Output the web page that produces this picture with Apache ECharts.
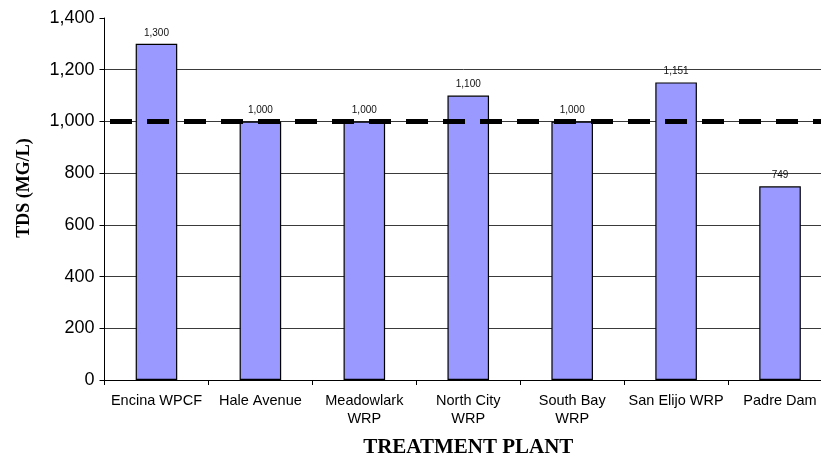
<!DOCTYPE html>
<html>
<head>
<meta charset="utf-8">
<script src="https://cdn.jsdelivr.net/npm/echarts@6/dist/echarts.min.js"></script>
<style>
  html, body { margin: 0; padding: 0; background: #fff; overflow: hidden; }
  #chart { width: 821px; height: 455px; }
</style>
</head>
<body>
<div id="chart"></div>
<script>
// Treatment plants and their TDS concentrations (mg/L)
const plants = ['Encina WPCF', 'Hale Avenue', 'Meadowlark\nWRP', 'North City\nWRP', 'South Bay\nWRP', 'San Elijo WRP', 'Padre Dam'];
const tdsValues = [1300, 1000, 1000, 1100, 1000, 1151, 749];
const tdsLimit = 1000;
const yTicks = { min: 0, max: 1400, interval: 200 };

const fmt = v => v.toLocaleString('en-US');

const chart = echarts.init(document.getElementById('chart'), null, { renderer: 'canvas' });

chart.setOption({
  animation: false,
  backgroundColor: '#ffffff',
  grid: { left: 104.5, right: -11, top: 18, bottom: 75, containLabel: false, outerBoundsMode: 'none' },
  xAxis: {
    type: 'category',
    data: plants,
    name: 'TREATMENT PLANT',
    nameLocation: 'middle',
    nameGap: 57,
    nameTextStyle: { fontFamily: 'Liberation Serif', fontWeight: 'bold', fontSize: 21, color: '#000' },
    axisLine: { lineStyle: { color: '#000', width: 1 } },
    axisTick: { show: true, length: 5, lineStyle: { color: '#000' } },
    axisLabel: { fontFamily: 'Liberation Sans', fontSize: 14.5, color: '#000', margin: 12, lineHeight: 18, interval: 0 },
    splitLine: { show: false }
  },
  yAxis: {
    type: 'value',
    min: yTicks.min,
    max: yTicks.max,
    interval: yTicks.interval,
    name: 'TDS (MG/L)',
    nameLocation: 'middle',
    nameGap: 71,
    nameRotate: 90,
    nameTextStyle: { fontFamily: 'Liberation Serif', fontWeight: 'bold', fontSize: 18, color: '#000', padding: [0, 0, 0, 22] },
    axisLine: { show: true, lineStyle: { color: '#000', width: 1 } },
    axisTick: { show: true, length: 5, lineStyle: { color: '#000' } },
    axisLabel: { fontFamily: 'Liberation Sans', fontSize: 18, color: '#000', margin: 10, formatter: fmt },
    splitLine: { show: true, showMaxLine: false, lineStyle: { color: '#3a3a3a', width: 1 } }
  },
  series: [{
    type: 'bar',
    data: tdsValues,
    barWidth: '40%',
    itemStyle: { color: '#9999ff', borderColor: '#000', borderWidth: 1.2 },
    label: {
      show: true,
      position: 'top',
      distance: 6,
      fontFamily: 'Liberation Sans',
      fontSize: 10,
      color: '#111',
      formatter: p => fmt(p.value)
    },
    markLine: {
      silent: true,
      symbol: 'none',
      label: { show: false },
      lineStyle: { color: '#000', width: 5, type: [22, 15], dashOffset: 31.5 },
      data: [{ yAxis: tdsLimit }]
    }
  }]
});
</script>
</body>
</html>
